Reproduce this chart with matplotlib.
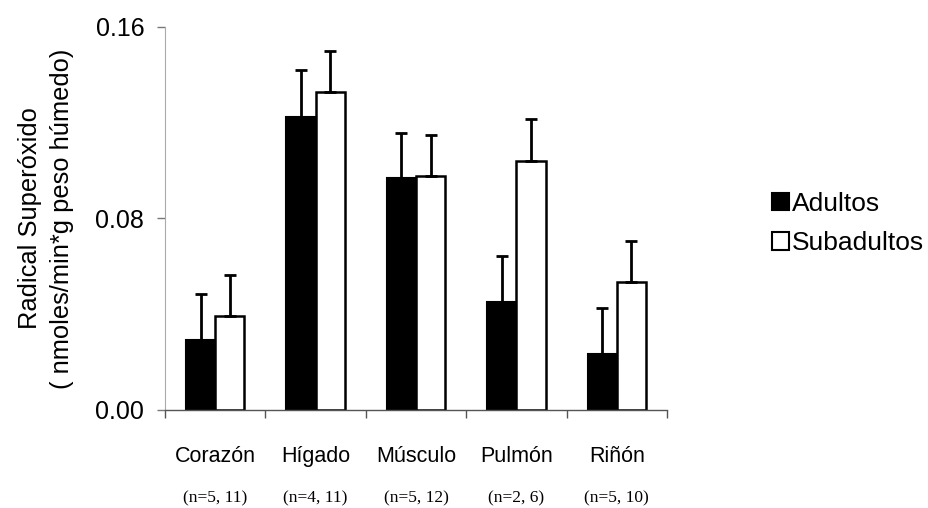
import numpy as np
import matplotlib
matplotlib.use('Agg')
import matplotlib.pyplot as plt
from matplotlib.patches import Patch

# data
organos = ['Corazón', 'Hígado', 'Músculo', 'Pulmón', 'Riñón']
n_labels = ['(n=5, 11)', '(n=4, 11)', '(n=5, 12)', '(n=2, 6)', '(n=5, 10)']
adultos = [0.0292, 0.1225, 0.0968, 0.0452, 0.0233]
adultos_err = [0.0193, 0.0195, 0.0190, 0.0193, 0.0192]
subadultos = [0.0394, 0.1330, 0.0979, 0.1041, 0.0533]
subadultos_err = [0.0170, 0.0170, 0.0170, 0.0173, 0.0173]
yticks = [0.00, 0.08, 0.16]

plt.rcParams['font.family'] = ['Liberation Sans', 'DejaVu Sans']

fig = plt.figure(figsize=(9.29, 5.08), dpi=100)
ax = fig.add_axes([0.1776, 0.193, 0.5404, 0.754])

x = np.arange(len(organos))
w = 0.29

ax.bar(x - w/2, adultos, w, color='black', edgecolor='black', linewidth=1.5, zorder=2)
ax.bar(x + w/2, subadultos, w, color='white', edgecolor='black', linewidth=1.8, zorder=2)

# upward-only error bars
ax.errorbar(x - w/2, adultos, yerr=[np.zeros(len(x)), adultos_err], fmt='none',
            ecolor='black', elinewidth=2, capsize=4.5, capthick=2, zorder=3)
ax.errorbar(x + w/2, subadultos, yerr=[np.zeros(len(x)), subadultos_err], fmt='none',
            ecolor='black', elinewidth=2, capsize=4.5, capthick=2, zorder=3)

ax.set_xlim(-0.5, len(organos) - 0.5)
ax.set_ylim(0, 0.16)
ax.set_yticks(yticks)
ax.set_yticklabels(['%.2f' % t for t in yticks], fontsize=18)

# category labels at centres, tick marks at the boundaries
ax.set_xticks(x)
ax.set_xticklabels(organos, fontsize=15.5)
ax.set_xticks(np.arange(len(organos) + 1) - 0.5, minor=True)
ax.tick_params(axis='x', which='major', length=0, pad=26)
ax.tick_params(axis='x', which='minor', length=6, width=1, color='#555555', direction='out')
ax.tick_params(axis='y', length=6, width=1, color='#777777', pad=9)

for i, t in enumerate(n_labels):
    ax.text(x[i], -0.232, t, transform=ax.get_xaxis_transform(), ha='center', va='center',
            fontsize=12.5, family=['Liberation Serif', 'DejaVu Serif'])

ax.spines['top'].set_visible(False)
ax.spines['right'].set_visible(False)
ax.spines['left'].set_color('#aaaaaa')
ax.spines['left'].set_linewidth(0.8)
ax.spines['bottom'].set_color('#555555')
ax.spines['bottom'].set_linewidth(1)

ax.set_ylabel('Radical Superóxido\n( nmoles/min*g peso húmedo)', fontsize=18.4, labelpad=15, linespacing=1.45)

handles = [Patch(facecolor='black', edgecolor='black', linewidth=1.5),
           Patch(facecolor='white', edgecolor='black', linewidth=1.5)]
fig.legend(handles, ['Adultos', 'Subadultos'], loc='center left', bbox_to_anchor=(0.831, 0.56),
           frameon=False, fontsize=19, handlelength=0.65, handleheight=0.65, handletextpad=0.12,
           labelspacing=0.6, borderpad=0, borderaxespad=0)

plt.savefig('out.png', dpi=100)
